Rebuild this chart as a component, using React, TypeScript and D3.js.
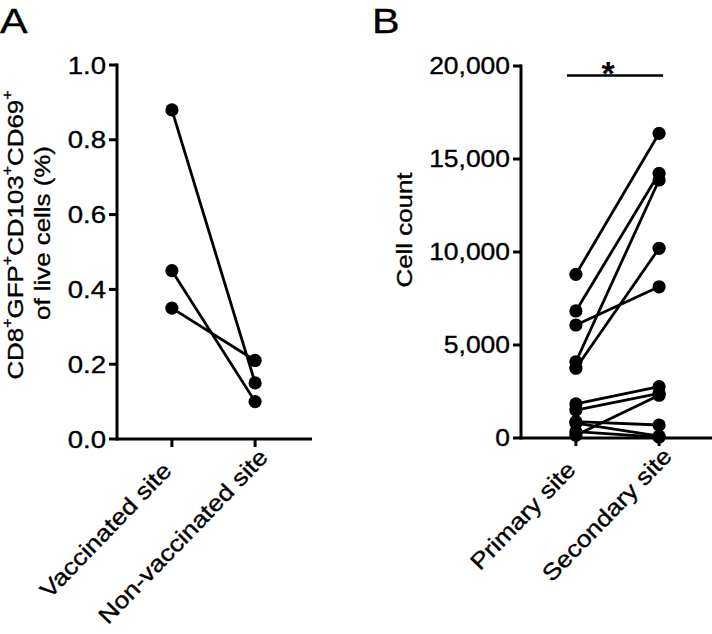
import * as d3 from "d3";

// panel A: tissue-resident CD8 T cells, paired per animal
const siteCategoriesA = ["Vaccinated site", "Non-vaccinated site"];
const vaccinatedA = [0.88, 0.45, 0.35];
const nonVaccinatedA = [0.15, 0.1, 0.21];
const ticksA = [0, 0.2, 0.4, 0.6, 0.8, 1.0];

// panel B: cell counts, paired per animal
const siteCategoriesB = ["Primary site", "Secondary site"];
const primaryB = [8800, 6830, 6075, 4100, 3750, 1830, 1500, 880, 800, 340, 150];
const secondaryB = [16380, 14230, 8130, 13870, 10200, 2760, 2400, 700, 100, 50, 2300];
const ticksB = [0, 5000, 10000, 15000, 20000];

// y title of panel A, split into normal / superscript parts
const titleA: [string, boolean][] = [
  ["CD8", false], ["+", true], ["GFP", false], ["+", true],
  ["CD103", false], ["+", true], ["CD69", false], ["+", true],
];

const W = 712;
const H = 634;
const FONT = "'Liberation Sans', Arial, Helvetica, sans-serif";
const FS = 22.5;
const SX = 1.15; // glyphs in the figure are a little wide
const AXIS_W = 3;
const TICK = 8;
const DOT_R = 6.6;
const LINE_W = 2.8;
const LABEL_ANGLE = -46;
const INK = { stroke: "#000", strokeWidth: 0.35 };

interface PanelProps {
  axisX: number;
  top: number;
  bottom: number;
  axisRight: number;
  domainMax: number;
  ticks: number[];
  tickFormat: (d: number) => string;
  tickSize: number;
  categories: string[];
  first: number[];
  second: number[];
}

function Panel(p: PanelProps) {
  const x = d3
    .scalePoint<string>()
    .domain(p.categories)
    .range([p.axisX, p.axisX + 193])
    .padding(0.66);
  const y = d3.scaleLinear().domain([0, p.domainMax]).range([p.bottom, p.top]);
  const pairs = p.first.map((v, i) => [v, p.second[i]]);
  const rad = (LABEL_ANGLE * Math.PI) / 180;

  return (
    <g>
      {/* y axis */}
      <line x1={p.axisX} x2={p.axisX} y1={p.top - AXIS_W / 2} y2={p.bottom + AXIS_W / 2} stroke="#000" strokeWidth={AXIS_W} />
      {p.ticks.map((t) => (
        <g key={t}>
          <line x1={p.axisX - TICK} x2={p.axisX} y1={y(t)} y2={y(t)} stroke="#000" strokeWidth={AXIS_W} />
          <text
            transform={`translate(${p.axisX - TICK - 3},${y(t)}) scale(${SX},1)`}
            dy="0.36em"
            textAnchor="end"
            fontSize={p.tickSize}
            fontFamily={FONT}
            {...INK}
          >
            {p.tickFormat(t)}
          </text>
        </g>
      ))}
      {/* x axis */}
      <line x1={p.axisX} x2={p.axisRight} y1={p.bottom} y2={p.bottom} stroke="#000" strokeWidth={AXIS_W} />
      {p.categories.map((c, i) => {
        const cx = x(c)!;
        const shift = i * 19;
        const px = cx + 1 + shift * Math.cos(rad);
        const py = p.bottom + 33 + shift * Math.sin(rad);
        return (
          <g key={c}>
            <line x1={cx} x2={cx} y1={p.bottom} y2={p.bottom + TICK} stroke="#000" strokeWidth={AXIS_W} />
            <text
              transform={`translate(${px},${py}) rotate(${LABEL_ANGLE}) scale(${SX},1)`}
              textAnchor="end"
              fontSize={FS + 0.5}
              fontFamily={FONT}
              {...INK}
            >
              {c}
            </text>
          </g>
        );
      })}
      {/* paired lines */}
      {pairs.map((d, i) => (
        <line
          key={"l" + i}
          x1={x(p.categories[0])}
          y1={y(d[0])}
          x2={x(p.categories[1])}
          y2={y(d[1])}
          stroke="#000"
          strokeWidth={LINE_W}
        />
      ))}
      {pairs.map((d, i) => (
        <g key={"d" + i}>
          <circle cx={x(p.categories[0])} cy={y(d[0])} r={DOT_R} fill="#000" />
          <circle cx={x(p.categories[1])} cy={y(d[1])} r={DOT_R} fill="#000" />
        </g>
      ))}
    </g>
  );
}

export default function App() {
  const fmtA = d3.format(".1f");
  const fmtB = (d: number) => (d === 0 ? "0" : d3.format(",")(d));

  // B bar spans both site positions
  const xB = d3.scalePoint<string>().domain(siteCategoriesB).range([521, 521 + 193]).padding(0.66);
  const barL = xB(siteCategoriesB[0])! - 9;
  const barR = xB(siteCategoriesB[1])! + 4;

  const SUP_DY = 11;

  return (
    <svg
      width={W}
      height={H}
      style={{ position: "absolute", left: 0, top: 0, background: "#fff" }}
    >
      <rect width={W} height={H} fill="#fff" />

      {/* panel letters */}
      <text transform={`translate(0,33) scale(${SX},1)`} fontSize={36} fontFamily={FONT} {...INK}>A</text>
      <text transform={`translate(372,33) scale(${SX},1)`} fontSize={36} fontFamily={FONT} {...INK}>B</text>

      <Panel
        axisX={117}
        top={65}
        bottom={439}
        axisRight={312}
        domainMax={1}
        ticks={ticksA}
        tickFormat={fmtA}
        tickSize={24}
        categories={siteCategoriesA}
        first={vaccinatedA}
        second={nonVaccinatedA}
      />
      <Panel
        axisX={521}
        top={66}
        bottom={438}
        axisRight={W}
        domainMax={20000}
        ticks={ticksB}
        tickFormat={fmtB}
        tickSize={23}
        categories={siteCategoriesB}
        first={primaryB}
        second={secondaryB}
      />

      {/* y titles */}
      <text transform={`translate(23,235) rotate(-90) scale(${SX},1)`} textAnchor="middle" fontSize={FS} fontFamily={FONT} {...INK}>
        {titleA.map(([s, isSup], i) => {
          const prevSup = i > 0 && titleA[i - 1][1];
          const dy = isSup ? -SUP_DY : prevSup ? SUP_DY : 0;
          return (
            <tspan key={i} dy={dy} fontSize={isSup ? 14 : FS}>
              {s}
            </tspan>
          );
        })}
      </text>
      <text transform={`translate(50,233) rotate(-90) scale(${SX},1)`} textAnchor="middle" fontSize={FS} fontFamily={FONT} {...INK}>
        of live cells (%)
      </text>
      <text transform={`translate(412,230) rotate(-90) scale(${SX},1)`} textAnchor="middle" fontSize={FS} fontFamily={FONT} {...INK}>
        Cell count
      </text>

      {/* significance */}
      <line x1={barL} x2={barR} y1={75.5} y2={75.5} stroke="#000" strokeWidth={2.6} />
      <text x={608} y={85} textAnchor="middle" fontSize={34} fontWeight="bold" fontFamily={FONT}>*</text>
    </svg>
  );
}
